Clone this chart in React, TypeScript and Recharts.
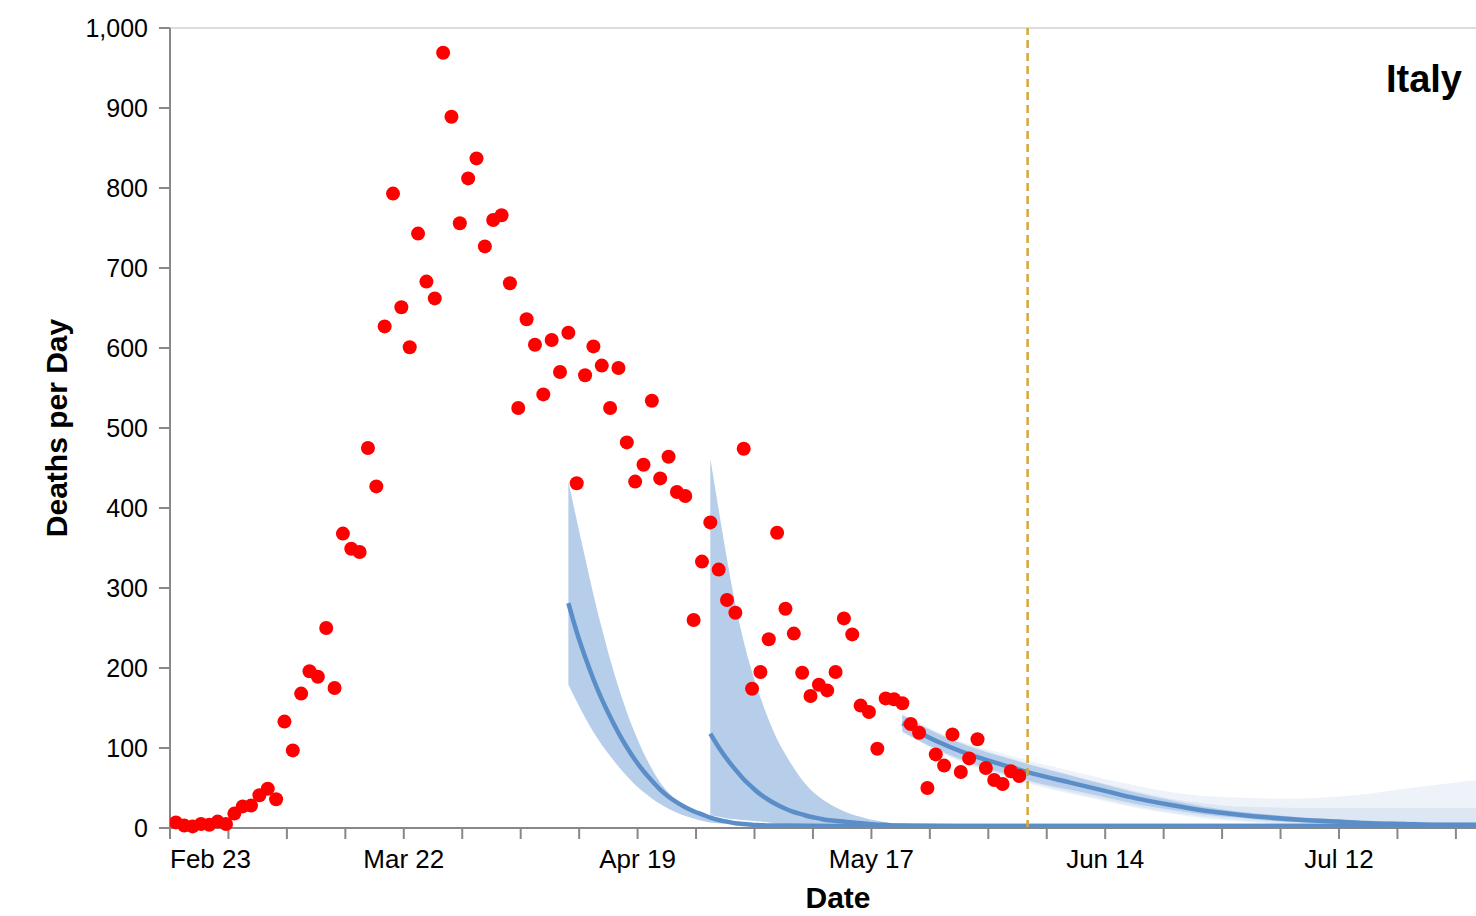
import React from 'react'
import { ComposedChart, XAxis, YAxis, Area, Line, Scatter, ReferenceLine } from 'recharts'

const MONTHS = ['Jan', 'Feb', 'Mar', 'Apr', 'May', 'Jun', 'Jul', 'Aug', 'Sep', 'Oct', 'Nov', 'Dec']
const START = Date.UTC(2020, 1, 23) // day 0 = Feb 23
const DAY_MS = 86400000
// data timestamps are UTC midnight, the axis ticks are local midnight
const TZ = 7 / 24

// x axis: weekly ticks, a label every 4 weeks
const X_TICKS = [0, 7, 14, 21, 28, 35, 42, 49, 56, 63, 70, 77, 84, 91, 98, 105, 112, 119, 126, 133, 140, 147, 154]
const Y_TICKS = [0, 100, 200, 300, 400, 500, 600, 700, 800, 900, 1000]

// observed deaths per day, Feb 24 .. Jun 4
const DEATHS_FIRST_DAY = 1
const deaths = [
	7, 3, 2, 5, 4, 8, 5, 18, 27, 28, 41, 49, 36, 133, 97, 168, 196, 189, 250, 175,
	368, 349, 345, 475, 427, 627, 793, 651, 601, 743, 683, 662, 969, 889, 756, 812, 837, 727, 760, 766,
	681, 525, 636, 604, 542, 610, 570, 619, 431, 566, 602, 578, 525, 575, 482, 433, 454, 534, 437, 464,
	420, 415, 260, 333, 382, 323, 285, 269, 474, 174, 195, 236, 369, 274, 243, 194, 165, 179, 172, 195,
	262, 242, 153, 145, 99, 162, 161, 156, 130, 119, 50, 92, 78, 117, 70, 87, 111, 75, 60, 55,
	71, 65,
]

// forecast made on Apr 11
const band1Days = [48, 49, 50, 51, 52, 53, 54, 55, 56, 57, 58, 59, 60, 61, 62, 63, 64, 65, 66, 67, 68, 69, 70, 71, 72, 73, 80, 90, 100, 110, 120, 130, 140, 150, 160]
const band1Lo = [179, 158, 138, 120, 104, 90, 77, 65, 54, 45, 37, 30, 24, 19, 15, 12, 9, 7, 6, 5, 4, 3, 2, 2, 2, 2, 1, 1, 1, 1, 1, 1, 1, 1, 1]
const band1Mid = [281, 245, 214, 186, 161, 139, 119, 101, 85, 71, 59, 48, 39, 32, 26, 21, 17, 13, 10, 8, 6, 5, 4, 3.5, 3, 3, 2.5, 2.5, 2.5, 2.5, 2.5, 2.5, 2.5, 2.5, 2.5]
const band1Hi = [433, 385, 338, 292, 250, 211, 176, 145, 118, 94, 74, 57, 44, 34, 26, 20, 15, 11, 9, 7, 6, 5, 4, 4, 4, 4, 4, 4, 4, 4, 4, 4, 4, 4, 4]

// forecast made on Apr 28
const band2Days = [65, 66, 67, 68, 69, 70, 71, 72, 73, 74, 75, 76, 77, 78, 79, 80, 81, 82, 83, 84, 85, 86, 87, 95, 105, 115, 125, 135, 145, 160]
const band2Lo = [16, 14, 12, 11, 10, 9, 8, 7, 6, 5, 4, 4, 3, 3, 3, 2, 2, 2, 2, 2, 2, 2, 2, 1, 1, 1, 1, 1, 1, 1]
const band2Mid = [118, 101, 86, 73, 61, 51, 42, 35, 29, 24, 20, 17, 14, 12, 10, 9, 8, 7, 6, 5, 4, 4, 3, 2.5, 2.5, 2.5, 2.5, 2.5, 2.5, 2.5]
const band2Hi = [462, 398, 336, 280, 233, 195, 163, 135, 111, 92, 75, 60, 48, 39, 32, 26, 21, 17, 14, 11, 9, 7, 6, 4, 4, 4, 4, 4, 4, 4]

// forecast made on May 21
const band3Days = [88, 92, 96, 100, 104, 108, 112, 116, 120, 124, 128, 132, 136, 140, 144, 148, 152, 156, 160]
const band3Median = [131, 109, 92, 79, 67, 57, 47, 37, 29, 22, 17, 13, 10, 8, 6, 5, 4, 4, 3]
const band3InLo = [121, 99, 82, 69, 57, 48, 39, 30, 23, 17, 13, 9, 7, 5, 3, 2, 1, 1, 0]
const band3InHi = [141, 119, 102, 89, 77, 66, 55, 44, 35, 27, 21, 17, 13, 11, 9, 8, 7, 7, 6]
const band3MidLo = [120, 98, 80, 67, 55, 45, 36, 27, 20, 14, 10, 7, 5, 3, 2, 1, 1, 0, 0]
const band3MidHi = [142, 120, 103, 90, 78, 67, 56, 46, 37, 31, 27, 26, 25, 25, 25, 25, 25, 25, 25]
const band3OutLo = [119, 97, 79, 65, 53, 43, 34, 25, 18, 12, 8, 5, 3, 2, 1, 0, 0, 0, 0]
const band3OutHi = [143, 121, 105, 93, 82, 72, 62, 53, 45, 40, 38, 37, 37, 39, 43, 49, 54, 59, 63]

const FORECAST_DAY = 103 // Jun 5

const BAND = '#b6cee9'
const BAND_MID = '#dde7f3'
const BAND_OUT = '#eef3f9'
const MEDIAN = '#5b8ec8'
const FONT = '"Liberation Sans", Arial, Helvetica, sans-serif'

const deathPoints = deaths.map((v, i) => ({ t: DEATHS_FIRST_DAY + i - TZ, v }))

const toBand = (days: number[], lo: number[], mid: number[], hi: number[]) =>
	days.map((d, i) => ({ t: d - TZ, range: [lo[i], hi[i]], mid: mid[i] }))

const forecast1 = toBand(band1Days, band1Lo, band1Mid, band1Hi)
const forecast2 = toBand(band2Days, band2Lo, band2Mid, band2Hi)
const forecast3 = toBand(band3Days, band3InLo, band3Median, band3InHi)
const forecast3Mid = toBand(band3Days, band3MidLo, band3Median, band3MidHi)
const forecast3Out = toBand(band3Days, band3OutLo, band3Median, band3OutHi)

const dateLabel = (d: number) => {
	const date = new Date(START + d * DAY_MS)
	return `${MONTHS[date.getUTCMonth()]} ${date.getUTCDate()}`
}

const XTick = (props: any) => {
	const { x, y, payload } = props
	if (payload.value % 28 !== 0) return <g />
	return (
		<text x={x} y={y} dy={19} textAnchor={payload.value === 0 ? 'start' : 'middle'} fontSize={26} fill="#000">
			{dateLabel(payload.value)}
		</text>
	)
}

const RedDot = (props: any) => <circle cx={props.cx} cy={props.cy} r={7} fill="#ff0000" />

export default function App() {
	return (
		<div style={{ position: 'absolute', left: 0, top: 0, width: 1476, height: 916, overflow: 'hidden', fontFamily: FONT, background: '#fff' }}>
			<ComposedChart width={1506} height={916} margin={{ top: 28, right: 0, bottom: 0, left: 0 }}>
				<XAxis
					type="number"
					dataKey="t"
					domain={[0, 160]}
					ticks={X_TICKS}
					interval={0}
					allowDataOverflow
					height={88}
					tickSize={11}
					tickMargin={10}
					tick={<XTick />}
					axisLine={{ stroke: '#888', strokeWidth: 2 }}
					tickLine={{ stroke: '#888', strokeWidth: 2 }}
					label={{ value: 'Date', position: 'insideBottom', offset: 8, style: { fontWeight: 700, fontSize: 30, fill: '#000' } }}
				/>
				<YAxis
					type="number"
					domain={[0, 1000]}
					ticks={Y_TICKS}
					interval={0}
					width={170}
					tickSize={11}
					tickMargin={11}
					tick={{ fill: '#000', fontSize: 25 }}
					tickFormatter={(v: number) => v.toLocaleString('en-US')}
					axisLine={{ stroke: '#888', strokeWidth: 2 }}
					tickLine={{ stroke: '#888', strokeWidth: 2 }}
					label={{ value: 'Deaths per Day', angle: -90, position: 'insideLeft', offset: 56, style: { textAnchor: 'middle', fontWeight: 700, fontSize: 30, fill: '#000' } }}
				/>
				<ReferenceLine y={1000} stroke="#ddd" strokeWidth={2} />

				<Area data={forecast3Out} dataKey="range" type="monotone" fill={BAND_OUT} fillOpacity={1} stroke="none" dot={false} activeDot={false} isAnimationActive={false} />
				<Area data={forecast3Mid} dataKey="range" type="monotone" fill={BAND_MID} fillOpacity={1} stroke="none" dot={false} activeDot={false} isAnimationActive={false} />
				<Area data={forecast3} dataKey="range" type="monotone" fill={BAND} fillOpacity={1} stroke="none" dot={false} activeDot={false} isAnimationActive={false} />
				<Area data={forecast1} dataKey="range" type="monotone" fill={BAND} fillOpacity={1} stroke="none" dot={false} activeDot={false} isAnimationActive={false} />
				<Area data={forecast2} dataKey="range" type="monotone" fill={BAND} fillOpacity={1} stroke="none" dot={false} activeDot={false} isAnimationActive={false} />

				<Line data={forecast1} dataKey="mid" type="monotone" stroke={MEDIAN} strokeWidth={4.5} dot={false} activeDot={false} isAnimationActive={false} />
				<Line data={forecast2} dataKey="mid" type="monotone" stroke={MEDIAN} strokeWidth={4.5} dot={false} activeDot={false} isAnimationActive={false} />
				<Line data={forecast3} dataKey="mid" type="monotone" stroke={MEDIAN} strokeWidth={4.5} dot={false} activeDot={false} isAnimationActive={false} />

				<ReferenceLine x={FORECAST_DAY - TZ} stroke="#d9a636" strokeWidth={2.5} strokeDasharray="8 5" />

				<Scatter data={deathPoints} dataKey="v" shape={<RedDot />} isAnimationActive={false} />
			</ComposedChart>
			<div style={{ position: 'absolute', right: 14, top: 60, fontSize: 38, fontWeight: 700, lineHeight: 1, color: '#000' }}>Italy</div>
		</div>
	)
}
